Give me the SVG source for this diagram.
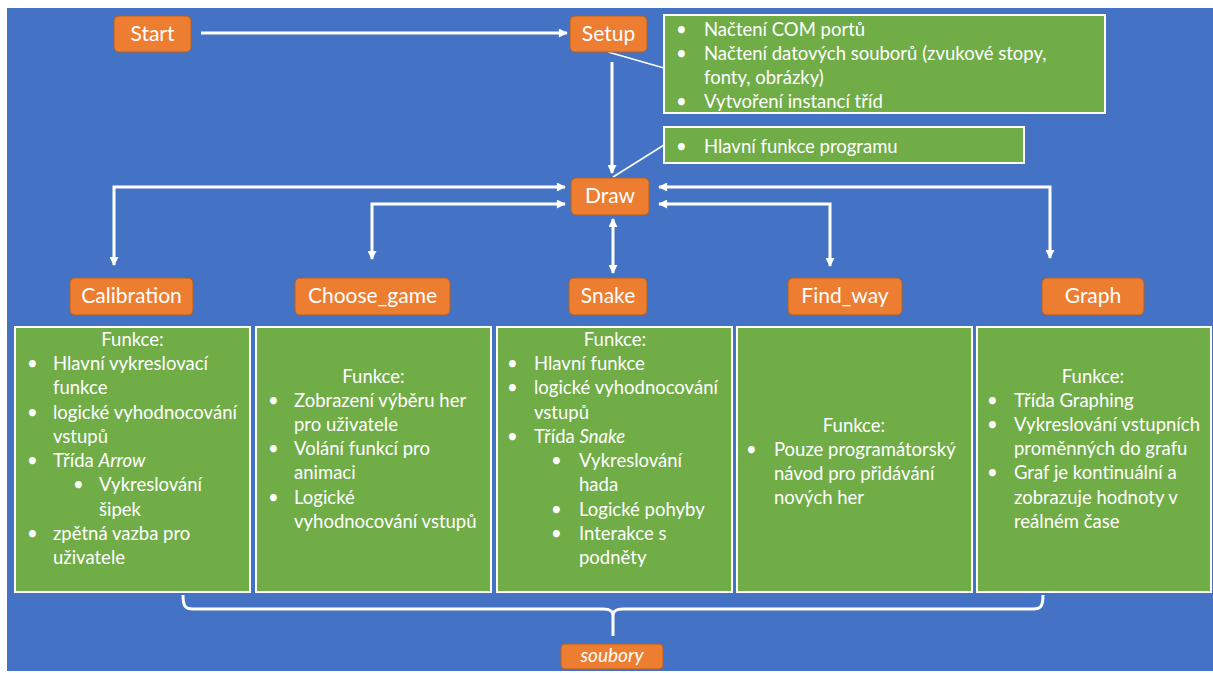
<svg xmlns="http://www.w3.org/2000/svg" width="1213" height="673" viewBox="0 0 1213 673">
<defs>
<style>
.node rect{fill:#ED7D31;stroke:#B9601F;stroke-width:1}
.node text{fill:#fff;font-family:Lato,"Liberation Sans",sans-serif;font-size:21px;text-anchor:middle}
.note rect{fill:#70AD47;stroke:#fff;stroke-width:2}
.note text{fill:#fff;font-family:Lato,"Liberation Sans",sans-serif;font-size:18.5px}
.note .c{text-anchor:middle}
.conn path{fill:none;stroke:#fff;stroke-width:3}
.conn .thin{stroke-width:1.5}
.it{font-style:italic}
</style>
<marker id="ah" viewBox="0 0 10 10" refX="9" refY="5" markerWidth="10" markerHeight="9" markerUnits="userSpaceOnUse" orient="auto-start-reverse">
<path d="M0,0 L10,5 L0,10 z" fill="#fff"/>
</marker>
</defs>
<rect x="7" y="8" width="1206" height="663" fill="#4472C4"/>

<g class="conn">
<path d="M201,33 H567" marker-end="url(#ah)"/>
<path d="M612,62 V173" marker-end="url(#ah)"/>
<path class="thin" d="M608,52 L664,68"/>
<path class="thin" d="M613,177 L664,145"/>
<path d="M114,265 V187 H565" marker-start="url(#ah)" marker-end="url(#ah)"/>
<path d="M372,259 V204 H565" marker-start="url(#ah)" marker-end="url(#ah)"/>
<path d="M613,219 V273" marker-start="url(#ah)" marker-end="url(#ah)"/>
<path d="M830,266 V204 H659" marker-start="url(#ah)" marker-end="url(#ah)"/>
<path d="M1050,258 V187 H659" marker-start="url(#ah)" marker-end="url(#ah)"/>
<path d="M183,595 C183,606 185,609 193,609 H603 C610,609 613,611 613,616 V636 M613,616 C613,611 616,609 623,609 H1033 C1041,609 1043,606 1043,595"/>
</g>

<g id="start" class="node"><rect x="114" y="16" width="77" height="36" rx="5"/><text x="152.5" y="41">Start</text></g>
<g id="setup" class="node"><rect x="570" y="16" width="77" height="36" rx="5"/><text x="608.5" y="41">Setup</text></g>
<g id="draw" class="node"><rect x="571" y="178" width="78" height="37" rx="5"/><text x="610" y="203">Draw</text></g>
<g id="calibration" class="node"><rect x="70" y="278" width="123" height="37" rx="5"/><text x="131.5" y="303">Calibration</text></g>
<g id="choose_game" class="node"><rect x="295" y="278" width="155" height="37" rx="5"/><text x="372.5" y="303">Choose_game</text></g>
<g id="snake" class="node"><rect x="569" y="278" width="78" height="37" rx="5"/><text x="608" y="303">Snake</text></g>
<g id="find_way" class="node"><rect x="788" y="278" width="114" height="37" rx="5"/><text x="845" y="303">Find_way</text></g>
<g id="graph" class="node"><rect x="1042" y="278" width="102" height="37" rx="5"/><text x="1093" y="303">Graph</text></g>
<g id="soubory" class="node"><rect x="561" y="644" width="102" height="25" rx="4"/><text x="612" y="662" class="it" style="font-size:19px">soubory</text></g>

<g id="setup_note" class="note">
<rect x="664" y="15" width="441" height="98"/>
<text x="676" y="36">•</text><text x="704" y="36">Načtení COM portů</text>
<text x="676" y="60">•</text><text x="704" y="60">Načtení datových souborů (zvukové stopy,</text>
<text x="704" y="84">fonty, obrázky)</text>
<text x="676" y="108">•</text><text x="704" y="108">Vytvoření instancí tříd</text>
</g>

<g id="draw_note" class="note">
<rect x="664" y="127" width="360" height="36"/>
<text x="676" y="153">•</text><text x="704" y="153">Hlavní funkce programu</text>
</g>

<g id="calibration_box" class="note">
<rect x="15" y="327" width="235" height="265"/>
<text class="c" x="132.5" y="346">Funkce:</text>
<text x="27" y="370">•</text><text x="53" y="370">Hlavní vykreslovací</text>
<text x="53" y="394">funkce</text>
<text x="27" y="419">•</text><text x="53" y="419">logické vyhodnocování</text>
<text x="53" y="443">vstupů</text>
<text x="27" y="467">•</text><text x="53" y="467">Třída <tspan class="it">Arrow</tspan></text>
<text x="73" y="491">•</text><text x="99" y="491">Vykreslování</text>
<text x="99" y="516">šipek</text>
<text x="27" y="540">•</text><text x="53" y="540">zpětná vazba pro</text>
<text x="53" y="564">uživatele</text>
</g>

<g id="choose_game_box" class="note">
<rect x="256" y="327" width="235" height="265"/>
<text class="c" x="373.5" y="383">Funkce:</text>
<text x="268" y="407">•</text><text x="294" y="407">Zobrazení výběru her</text>
<text x="294" y="431">pro uživatele</text>
<text x="268" y="455">•</text><text x="294" y="455">Volání funkcí pro</text>
<text x="294" y="479">animaci</text>
<text x="268" y="504">•</text><text x="294" y="504">Logické</text>
<text x="294" y="528">vyhodnocování vstupů</text>
</g>

<g id="snake_box" class="note">
<rect x="497" y="327" width="235" height="265"/>
<text class="c" x="615" y="346">Funkce:</text>
<text x="507" y="370">•</text><text x="534" y="370">Hlavní funkce</text>
<text x="507" y="394">•</text><text x="534" y="394">logické vyhodnocování</text>
<text x="534" y="419">vstupů</text>
<text x="507" y="443">•</text><text x="534" y="443">Třída <tspan class="it">Snake</tspan></text>
<text x="551" y="467">•</text><text x="579" y="467">Vykreslování</text>
<text x="579" y="491">hada</text>
<text x="551" y="516">•</text><text x="579" y="516">Logické pohyby</text>
<text x="551" y="540">•</text><text x="579" y="540">Interakce s</text>
<text x="579" y="564">podněty</text>
</g>

<g id="find_way_box" class="note">
<rect x="737" y="327" width="235" height="265"/>
<text class="c" x="854" y="432">Funkce:</text>
<text x="746" y="456">•</text><text x="774" y="456">Pouze programátorský</text>
<text x="774" y="480">návod pro přidávání</text>
<text x="774" y="504">nových her</text>
</g>

<g id="graph_box" class="note">
<rect x="977" y="327" width="234" height="265"/>
<text class="c" x="1093" y="383">Funkce:</text>
<text x="987" y="407">•</text><text x="1014" y="407">Třída Graphing</text>
<text x="987" y="431">•</text><text x="1014" y="431">Vykreslování vstupních</text>
<text x="1014" y="455">proměnných do grafu</text>
<text x="987" y="479">•</text><text x="1014" y="479">Graf je kontinuální a</text>
<text x="1014" y="504">zobrazuje hodnoty v</text>
<text x="1014" y="528">reálném čase</text>
</g>
</svg>
